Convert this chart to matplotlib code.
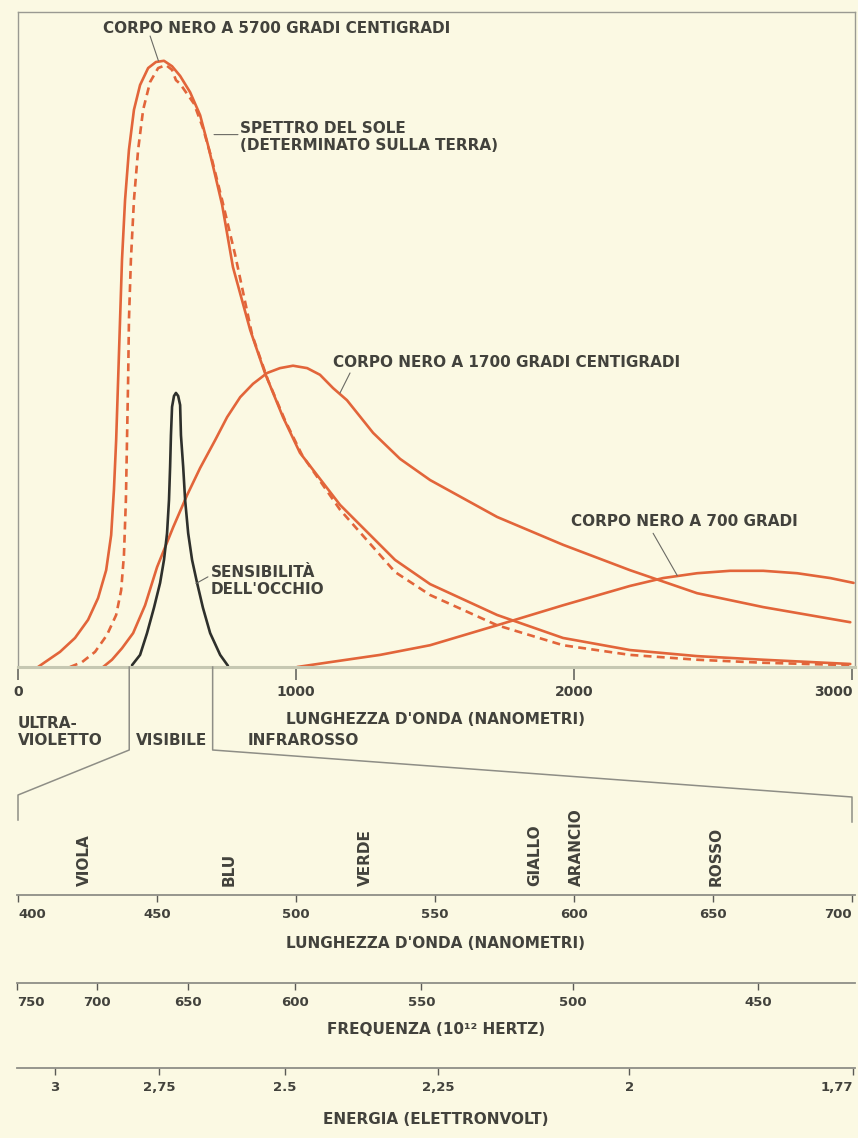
import matplotlib.pyplot as plt
from matplotlib.lines import Line2D

# Relative intensity against wavelength (nm); the 5700 C body peaks at about 100
bb5700_nm = [72, 97, 151, 205, 252, 288, 317, 335, 345, 353, 360, 367, 374, 385, 399, 417, 439, 468,
             496, 525, 554, 583, 619, 655, 683, 709, 734, 773, 835, 888, 953, 1014, 1158, 1356, 1482,
             1723, 1960, 2201, 2442, 2680, 2993]
bb5700_val = [0, 0.8, 2.5, 4.8, 7.8, 11.4, 16.0, 21.8, 29.3, 37.5, 47.4, 57.4, 67.3, 77.2, 85.5, 92.1,
              96.2, 99.0, 100.0, 100.2, 99.3, 97.7, 95.0, 91.2, 86.3, 81.3, 76.4, 66.1, 55.7, 48.6, 41.3,
              35.4, 26.8, 17.7, 13.7, 8.6, 4.8, 2.8, 1.8, 1.2, 0.5]

sun_nm = [187, 230, 277, 320, 353, 371, 381, 388, 392, 396, 399, 406, 417, 432, 450, 475, 504, 532,
          554, 568, 583, 604, 633, 665, 698, 734, 781, 842, 899, 960, 1022, 1158, 1356, 1482, 1723,
          1960, 2201, 2442, 2680, 2993]
sun_val = [0, 0.8, 2.5, 5.3, 8.6, 12.7, 18.5, 27.6, 37.5, 47.4, 57.4, 67.3, 77.2, 85.5, 92.1, 96.7,
           99.0, 99.5, 98.7, 97.0, 96.4, 95.0, 93.1, 89.1, 83.8, 77.2, 68.1, 54.9, 47.4, 40.8, 35.0,
           26.0, 15.7, 11.9, 6.9, 3.6, 2.0, 1.2, 0.7, 0.3]

bb1700_nm = [306, 338, 374, 414, 457, 500, 558, 608, 655, 709, 752, 799, 845, 896, 942, 989, 1040,
             1086, 1133, 1183, 1277, 1374, 1482, 1723, 1960, 2201, 2442, 2680, 2993]
bb1700_val = [0, 1.2, 3.1, 5.6, 10.2, 16.5, 23.1, 28.4, 32.9, 37.5, 41.3, 44.6, 46.8, 48.6, 49.4,
              49.8, 49.4, 48.3, 46.1, 44.1, 38.7, 34.4, 30.9, 24.8, 20.2, 16.0, 12.2, 9.9, 7.4]

bb700_nm = [1004, 1122, 1302, 1482, 1723, 1960, 2201, 2320, 2442, 2561, 2680, 2802, 2921, 3005]
bb700_val = [0, 0.8, 2.0, 3.6, 6.9, 10.2, 13.4, 14.7, 15.5, 15.9, 15.9, 15.5, 14.7, 13.9]

eye_nm = [410, 439, 464, 489, 511, 525, 536, 543, 547, 550, 554, 561, 568, 576, 583, 586, 594, 601,
          612, 626, 644, 665, 691, 727, 755]
eye_val = [0.3, 2.0, 5.6, 9.8, 13.9, 17.7, 22.1, 27.6, 33.1, 38.3, 43.0, 44.8, 45.3, 44.8, 43.3,
           38.3, 33.1, 27.6, 22.1, 17.7, 13.9, 9.8, 5.6, 2.0, 0.2]

wave_ticks = [0, 1000, 2000, 3000]
visible_band = [400, 700]

colour_names = ['VIOLA', 'BLU', 'VERDE', 'GIALLO', 'ARANCIO', 'ROSSO']
colour_nm = [424, 476, 525, 586, 601, 651]

vis_ticks = [400, 450, 500, 550, 600, 650, 700]
freq_ticks = [750, 700, 650, 600, 550, 500, 450]          # 10^12 Hz
energy_ticks = [3, 2.75, 2.5, 2.25, 2, 1.77]               # eV
energy_labels = ['3', '2,75', '2.5', '2,25', '2', '1,77']

BG = '#fbf9e3'
ORANGE = '#e2653a'
INK = '#42423c'
GREY = '#8e8e86'
W, H = 858, 1138
TXT = dict(fontsize=11, fontweight='bold', color=INK)

# lower scales share the 400-700 nm span, drawn from x=18 to x=852 px
LO_MIN, LO_MAX = 399.5, 701
PX_NM = 834 / 300
LO_X0 = 18 - (400 - LO_MIN) * PX_NM
LO_X1 = 852 + (LO_MAX - 700) * PX_NM


def _box(x0, y0, x1, y1):
    # pixel rectangle measured from the top-left corner -> figure fraction
    return [x0 / W, 1 - y1 / H, (x1 - x0) / W, (y1 - y0) / H]


def _scale(fig, y_px, ticks_nm, labels, title, title_gap, top_px=None, align=None):
    sax = fig.add_axes(_box(LO_X0, top_px if top_px else y_px - 1, LO_X1, y_px))
    sax.set_xlim(LO_MIN, LO_MAX)
    sax.set_ylim(0, 1)
    sax.patch.set_visible(False)
    for side in ('left', 'right', 'top'):
        sax.spines[side].set_visible(False)
    sax.spines['bottom'].set_color(GREY)
    sax.spines['bottom'].set_linewidth(1.3)
    sax.set_yticks([])
    sax.set_xticks(ticks_nm)
    sax.set_xticklabels(labels)
    sax.tick_params(axis='x', direction='out', length=5, width=1, color='#5a5a55',
                    pad=4.5, labelsize=9.5, labelcolor=INK)
    for t, ha in zip(sax.get_xticklabels(), align or ['center'] * len(labels)):
        t.set_fontweight('bold')
        t.set_horizontalalignment(ha)
    sax.annotate(title, xy=(0.5, 0), xycoords='axes fraction', xytext=(0, -title_gap * 0.72),
                 textcoords='offset points', ha='center', va='center', **TXT)
    return sax


fig = plt.figure(figsize=(W / 100, H / 100), dpi=100)
fig.patch.set_facecolor(BG)

ax = fig.add_axes(_box(18, 12, 855, 667))
ax.set_facecolor(BG)
ax.set_xlim(0, 3010)
ax.set_ylim(0, (667 - 12) / 6.05)

ax.plot(bb700_nm, bb700_val, color=ORANGE, lw=1.9, solid_capstyle='round')
ax.plot(bb1700_nm, bb1700_val, color=ORANGE, lw=1.9, solid_capstyle='round')
ax.plot(bb5700_nm, bb5700_val, color=ORANGE, lw=1.9, solid_capstyle='round')
ax.plot(sun_nm, sun_val, color=ORANGE, lw=1.9, ls=(0, (3, 2)))
ax.plot(eye_nm, eye_val, color='#2e302c', lw=1.9, solid_capstyle='round')

for side in ('left', 'top', 'right'):
    ax.spines[side].set_color('#9a9a92')
    ax.spines[side].set_linewidth(1.0)
ax.spines['bottom'].set_color('#c6c8b2')
ax.spines['bottom'].set_linewidth(2.2)
ax.set_yticks([])
ax.set_xticks(wave_ticks)
ax.set_xticklabels([str(t) for t in wave_ticks])
ax.tick_params(axis='x', direction='out', length=9, width=1.1, color='#5a5a55', pad=4,
               labelsize=10, labelcolor=INK)
for t in ax.get_xticklabels():
    t.set_fontweight('bold')
ax.get_xticklabels()[-1].set_horizontalalignment('right')

# curve labels with their leader lines
lead = dict(arrowstyle='-', color='#6a6a64', lw=0.8, shrinkA=0, shrinkB=0)
peak = bb5700_val.index(max(bb5700_val))
ax.annotate('', xy=(bb5700_nm[peak] - 20, bb5700_val[peak]), xytext=(475, 104.3), arrowprops=lead)
ax.text(306, 105.6, 'CORPO NERO A 5700 GRADI CENTIGRADI', ha='left', va='center', **TXT)

ax.annotate('', xy=(705, 88), xytext=(791, 88), arrowprops=lead)
ax.text(797, 87.6, 'SPETTRO DEL SOLE\n(DETERMINATO SULLA TERRA)', ha='left', va='center',
        linespacing=1.15, **TXT)

ax.annotate('', xy=(1158, 45.3), xytext=(1194, 48.6), arrowprops=lead)
ax.text(1133, 50.4, 'CORPO NERO A 1700 GRADI CENTIGRADI', ha='left', va='center', **TXT)

ax.annotate('', xy=(2371, 15.1), xytext=(2284, 22.1), arrowprops=lead)
ax.text(1989, 24.0, 'CORPO NERO A 700 GRADI', ha='left', va='center', **TXT)

ax.annotate('', xy=(640, 13.8), xytext=(683, 14.9), arrowprops=lead)
ax.text(694, 14.2, 'SENSIBILITÀ\nDELL\'OCCHIO', ha='left', va='center', linespacing=1.15, **TXT)

# axis title and spectral regions under the main chart
ax.text(964, -8.6, 'LUNGHEZZA D\'ONDA (NANOMETRI)', ha='left', va='center', **TXT)
ax.text(0, -10.7, 'ULTRA-\nVIOLETTO', ha='left', va='center', linespacing=1.15, **TXT)
ax.text(424, -12.2, 'VISIBILE', ha='left', va='center', **TXT)
ax.text(824, -12.2, 'INFRAROSSO', ha='left', va='center', **TXT)

# visible-band scales
vis_ax = _scale(fig, 895, vis_ticks, [str(v) for v in vis_ticks],
                'LUNGHEZZA D\'ONDA (NANOMETRI)', 49, top_px=822,
                align=['left'] + ['center'] * 5 + ['right'])
for name, nm in zip(colour_names, colour_nm):
    vis_ax.text(nm, 0.13, name, rotation=90, ha='center', va='bottom', **TXT)

_scale(fig, 983, [299792.458 / f for f in freq_ticks], [str(f) for f in freq_ticks],
       'FREQUENZA (10¹² HERTZ)', 46, align=['left'] + ['center'] * 6)
_scale(fig, 1068, [1239.84 / e for e in energy_ticks], energy_labels,
       'ENERGIA (ELETTRONVOLT)', 52, align=['center'] * 5 + ['right'])

# fan lines joining the visible band of the main chart to the expanded scale
for i, nm in enumerate(visible_band):
    x_top = ax.transData.transform((nm, 0))[0] / W
    x_low = vis_ax.transData.transform((nm, 0))[0] / W
    y_kink = [750, 795 + 2 * i, 820 + 2 * i]
    xs = [x_top, x_top, x_low, x_low]
    ys = [1 - 667 / H] + [1 - y / H for y in y_kink]
    fig.add_artist(Line2D(xs, ys, transform=fig.transFigure, color=GREY, lw=1.1))

fig.savefig('out.png', dpi=100, facecolor=BG)
